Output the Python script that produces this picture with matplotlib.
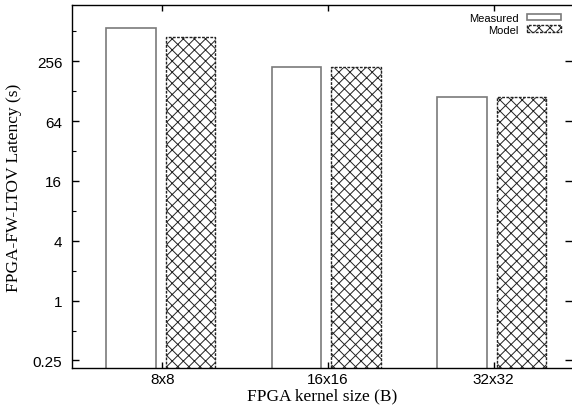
import numpy as np
import matplotlib.pyplot as plt
from matplotlib.ticker import FixedLocator, NullFormatter

# Data
kernels = ['8x8', '16x16', '32x32']
measured = [550, 223, 111]
model = [447, 225, 113]

x = np.arange(len(kernels))
width = 0.30

plt.rcParams['hatch.linewidth'] = 0.7

fig = plt.figure(figsize=(5.72, 4.10), dpi=100)
ax = fig.add_axes([0.126, 0.100, 0.874, 0.885])

ax.bar(x - 0.19, measured, width, color='white', edgecolor='#7a7a7a',
       linewidth=1.2, label='Measured')
ax.bar(x + 0.17, model, width, color='white', edgecolor='#222222',
       linewidth=1.0, linestyle=(0, (2, 1)), hatch='xxx', label='Model')

ax.set_yscale('log', base=2)
ax.set_ylim(0.21, 940)
ax.set_xlim(-0.545, 2.474)

major = [0.25, 1, 4, 16, 64, 256]
ax.yaxis.set_major_locator(FixedLocator(major))
ax.set_yticklabels(['0.25', '1', '4', '16', '64', '256'])
ax.yaxis.set_minor_locator(FixedLocator([0.5, 2, 8, 32, 128, 512]))
ax.yaxis.set_minor_formatter(NullFormatter())

ax.set_xticks(x)
ax.set_xticklabels(kernels)

ax.tick_params(which='both', direction='in', top=True, right=True,
               labelsize=11, labelfontfamily='Liberation Sans', pad=7)
ax.tick_params(which='major', length=5, width=1)
ax.tick_params(which='minor', length=3, width=0.8, right=False)
ax.tick_params(axis='x', length=4, pad=3)

ax.set_xlabel('FPGA kernel size (B)', family='Liberation Serif', fontsize=12.5, labelpad=1)
ax.set_ylabel('FPGA-FW-LTOV Latency (s)', family='Liberation Serif', fontsize=12.5, labelpad=8)

for s in ax.spines.values():
    s.set_linewidth(1.0)
ax.spines['right'].set_visible(False)

leg = ax.legend(loc='upper right', frameon=False, markerfirst=False,
                prop={'family': 'Liberation Sans', 'size': 8},
                handlelength=3.0, handleheight=0.55, labelspacing=0.15,
                borderaxespad=0.3, handletextpad=0.8,
                bbox_to_anchor=(0.993, 1.0))

fig.savefig('out.png', dpi=100)
